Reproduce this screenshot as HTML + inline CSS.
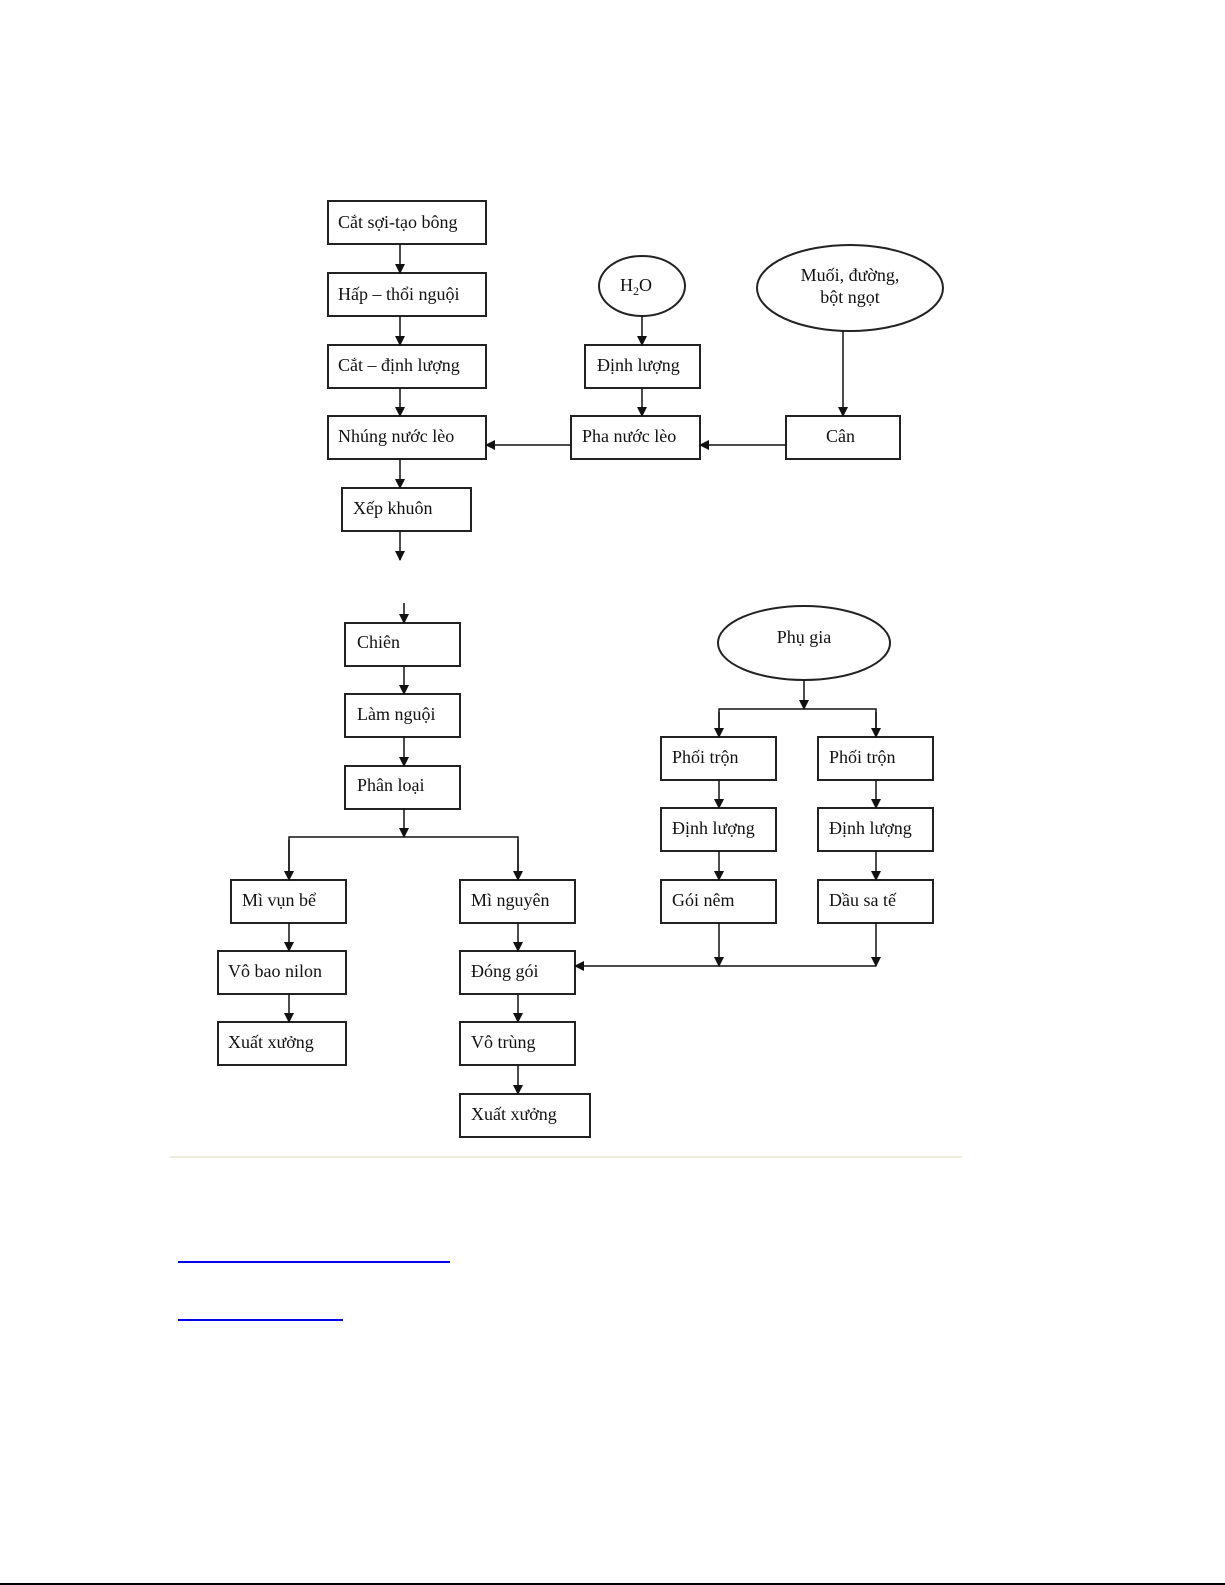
<!DOCTYPE html>
<html><head><meta charset="utf-8"><style>
html,body{margin:0;padding:0;background:#fff;}
svg{display:block}
text{font-family:"Liberation Serif",serif;font-size:18px;fill:#111}
</style></head><body>
<svg width="1225" height="1585" viewBox="0 0 1225 1585" xmlns="http://www.w3.org/2000/svg">
<defs>
<marker id="a" markerWidth="10" markerHeight="10" refX="9" refY="5" orient="auto" markerUnits="userSpaceOnUse">
<path d="M0,0 L10,5 L0,10 Z" fill="#111"/></marker>
</defs>
<g fill="#fff" stroke="#222" stroke-width="2">
<rect x="328" y="201" width="158" height="43"/>
<rect x="328" y="273" width="158" height="43"/>
<rect x="328" y="345" width="158" height="43"/>
<rect x="328" y="416" width="158" height="43"/>
<rect x="342" y="488" width="129" height="43"/>
<ellipse cx="642" cy="286" rx="43" ry="30"/>
<ellipse cx="850" cy="288" rx="93" ry="43"/>
<rect x="585" y="345" width="115" height="43"/>
<rect x="571" y="416" width="129" height="43"/>
<rect x="786" y="416" width="114" height="43"/>
<rect x="345" y="623" width="115" height="43"/>
<rect x="345" y="694" width="115" height="43"/>
<rect x="345" y="766" width="115" height="43"/>
<rect x="231" y="880" width="115" height="43"/>
<rect x="218" y="951" width="128" height="43"/>
<rect x="218" y="1022" width="128" height="43"/>
<rect x="460" y="880" width="115" height="43"/>
<rect x="460" y="951" width="115" height="43"/>
<rect x="460" y="1022" width="115" height="43"/>
<rect x="460" y="1094" width="130" height="43"/>
<ellipse cx="804" cy="643" rx="86" ry="37"/>
<rect x="661" y="737" width="115" height="43"/>
<rect x="818" y="737" width="115" height="43"/>
<rect x="661" y="808" width="115" height="43"/>
<rect x="818" y="808" width="115" height="43"/>
<rect x="661" y="880" width="115" height="43"/>
<rect x="818" y="880" width="115" height="43"/>
</g>
<g stroke="#111" stroke-width="1.5" fill="none">
<line x1="400" y1="244" x2="400" y2="273" marker-end="url(#a)"/>
<line x1="400" y1="316" x2="400" y2="345" marker-end="url(#a)"/>
<line x1="400" y1="388" x2="400" y2="416" marker-end="url(#a)"/>
<line x1="400" y1="459" x2="400" y2="488" marker-end="url(#a)"/>
<line x1="400" y1="531" x2="400" y2="560" marker-end="url(#a)"/>
<line x1="642" y1="316" x2="642" y2="345" marker-end="url(#a)"/>
<line x1="642" y1="388" x2="642" y2="416" marker-end="url(#a)"/>
<line x1="843" y1="331" x2="843" y2="416" marker-end="url(#a)"/>
<line x1="786" y1="445" x2="700" y2="445" marker-end="url(#a)"/>
<line x1="571" y1="445" x2="486" y2="445" marker-end="url(#a)"/>
<line x1="404" y1="603" x2="404" y2="623" marker-end="url(#a)"/>
<line x1="404" y1="666" x2="404" y2="694" marker-end="url(#a)"/>
<line x1="404" y1="737" x2="404" y2="766" marker-end="url(#a)"/>
<line x1="404" y1="809" x2="404" y2="837" marker-end="url(#a)"/>
<polyline points="289,880 289,837 518,837 518,880"/>
<line x1="289" y1="840" x2="289" y2="880" marker-end="url(#a)"/>
<line x1="518" y1="840" x2="518" y2="880" marker-end="url(#a)"/>
<line x1="289" y1="923" x2="289" y2="951" marker-end="url(#a)"/>
<line x1="289" y1="994" x2="289" y2="1022" marker-end="url(#a)"/>
<line x1="518" y1="923" x2="518" y2="951" marker-end="url(#a)"/>
<line x1="518" y1="994" x2="518" y2="1022" marker-end="url(#a)"/>
<line x1="518" y1="1065" x2="518" y2="1094" marker-end="url(#a)"/>
<line x1="804" y1="680" x2="804" y2="709" marker-end="url(#a)"/>
<polyline points="719,737 719,709 876,709 876,737"/>
<line x1="719" y1="712" x2="719" y2="737" marker-end="url(#a)"/>
<line x1="876" y1="712" x2="876" y2="737" marker-end="url(#a)"/>
<line x1="719" y1="780" x2="719" y2="808" marker-end="url(#a)"/>
<line x1="876" y1="780" x2="876" y2="808" marker-end="url(#a)"/>
<line x1="719" y1="851" x2="719" y2="880" marker-end="url(#a)"/>
<line x1="876" y1="851" x2="876" y2="880" marker-end="url(#a)"/>
<line x1="719" y1="923" x2="719" y2="966" marker-end="url(#a)"/>
<line x1="876" y1="923" x2="876" y2="966" marker-end="url(#a)"/>
<line x1="876" y1="966" x2="575" y2="966" marker-end="url(#a)"/>
</g>
<g>
<text x="338" y="228">Cắt sợi-tạo bông</text>
<text x="338" y="300">Hấp – thổi nguội</text>
<text x="338" y="371">Cắt – định lượng</text>
<text x="338" y="442">Nhúng nước lèo</text>
<text x="353" y="514">Xếp khuôn</text>
<text x="620" y="291">H<tspan font-size="12" dy="4">2</tspan><tspan dy="-4">O</tspan></text>
<text x="850" y="281" text-anchor="middle">Muối, đường,</text>
<text x="850" y="303" text-anchor="middle">bột ngọt</text>
<text x="597" y="371">Định lượng</text>
<text x="582" y="442">Pha nước lèo</text>
<text x="826" y="442">Cân</text>
<text x="357" y="648">Chiên</text>
<text x="357" y="720">Làm nguội</text>
<text x="357" y="791">Phân loại</text>
<text x="242" y="906">Mì vụn bể</text>
<text x="228" y="977">Vô bao nilon</text>
<text x="228" y="1048">Xuất xưởng</text>
<text x="471" y="906">Mì nguyên</text>
<text x="471" y="977">Đóng gói</text>
<text x="471" y="1048">Vô trùng</text>
<text x="471" y="1120">Xuất xưởng</text>
<text x="804" y="643" text-anchor="middle">Phụ gia</text>
<text x="672" y="763">Phối trộn</text>
<text x="829" y="763">Phối trộn</text>
<text x="672" y="834">Định lượng</text>
<text x="829" y="834">Định lượng</text>
<text x="672" y="906">Gói nêm</text>
<text x="829" y="906">Dầu sa tế</text>
</g>
<line x1="170" y1="1157" x2="962" y2="1157" stroke="#ecebdc" stroke-width="2"/>
<line x1="178" y1="1262" x2="450" y2="1262" stroke="#0000ee" stroke-width="2"/>
<line x1="178" y1="1320" x2="343" y2="1320" stroke="#0000ee" stroke-width="2"/>
<line x1="0" y1="1584" x2="1225" y2="1584" stroke="#000" stroke-width="2"/>
</svg>
</body></html>
